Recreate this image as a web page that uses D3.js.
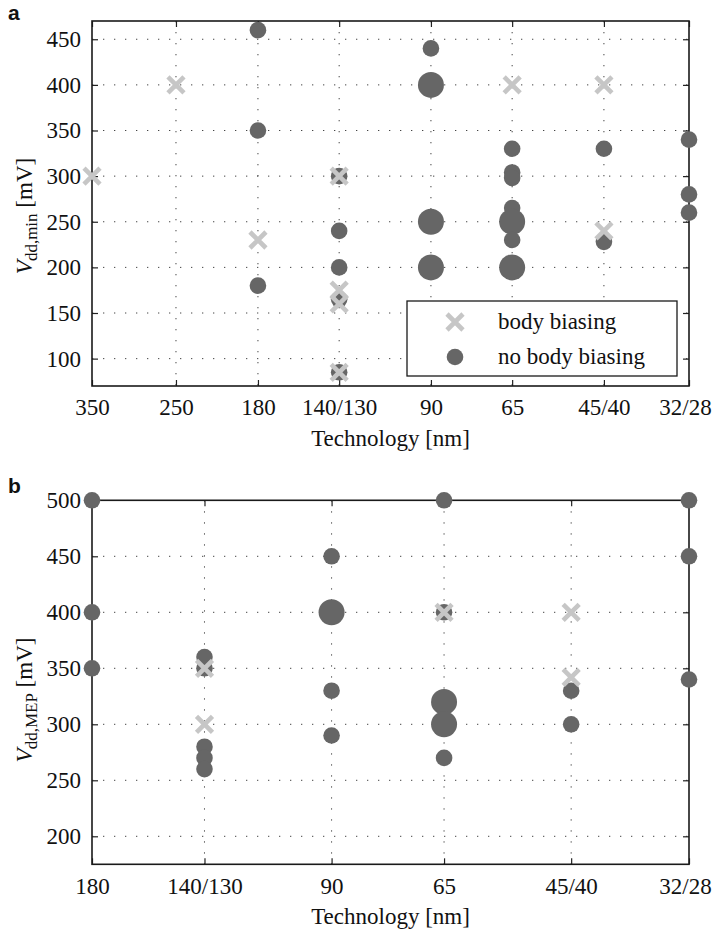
<!DOCTYPE html>
<html>
<head>
<meta charset="utf-8">
<script src="https://cdn.jsdelivr.net/npm/d3@7"></script>
<style>
body { margin: 0; background: #fff; }
text { font-family: "Liberation Serif", "Times New Roman", serif; fill: #111; }
text.panel-letter { font-family: "Liberation Sans", Arial, sans-serif; font-weight: bold; }
</style>
</head>
<body>
<script>
// technology nodes (nm, log axis) and the labels shown under them
var nodesA = [350, 250, 180, 130, 90, 65, 45, 32];
var nodeLabelsA = ["350", "250", "180", "140/130", "90", "65", "45/40", "32/28"];
var nodesB = [180, 130, 90, 65, 45, 32];
var nodeLabelsB = ["180", "140/130", "90", "65", "45/40", "32/28"];
var yTicksA = [100, 150, 200, 250, 300, 350, 400, 450];
var yTicksB = [200, 250, 300, 350, 400, 450, 500];

// panel a : Vdd,min
var bbNodeA = [350, 250, 180, 130, 130, 130, 130, 65, 45, 45];
var bbVddA  = [300, 400, 230, 300, 175, 160, 85, 400, 400, 240];
var nbNodeA = [180, 180, 180, 130, 130, 130, 130, 130, 90, 90, 90, 90, 65, 65, 65, 65, 65, 65, 65, 45, 45, 32, 32, 32];
var nbVddA  = [460, 350, 180, 300, 240, 200, 165, 85, 440, 400, 250, 200, 330, 304, 298, 265, 250, 230, 200, 330, 228, 340, 280, 260];
var nbSizeA = [1, 1, 1, 1, 1, 1, 1, 1, 1, 2, 2, 2, 1, 1, 1, 1, 2, 1, 2, 1, 1, 1, 1, 1];

// panel b : Vdd,MEP
var bbNodeB = [130, 130, 65, 45, 45];
var bbVddB  = [350, 300, 400, 400, 342];
var nbNodeB = [180, 180, 180, 130, 130, 130, 130, 130, 90, 90, 90, 90, 65, 65, 65, 65, 65, 45, 45, 32, 32, 32];
var nbVddB  = [500, 400, 350, 360, 350, 280, 270, 260, 450, 400, 330, 290, 500, 400, 320, 300, 270, 330, 300, 500, 450, 340];
var nbSizeB = [1, 1, 1, 1, 1, 1, 1, 1, 1, 2, 1, 1, 1, 1, 2, 2, 1, 1, 1, 1, 1, 1];

var W = 713, H = 934;
var left = 92, right = 689;
var serif = "'Liberation Serif', 'Times New Roman', serif";
var crossCol = "#c6c6c6", dotCol = "#666666";

var svg = d3.select("body").append("svg")
    .attr("width", W)
    .attr("height", H)
    .attr("font-family", serif);

function crossPath(s) {
  return "M" + (-s) + "," + (-s) + "L" + s + "," + s + "M" + (-s) + "," + s + "L" + s + "," + (-s);
}

function panel(cfg) {
  var x = d3.scaleLog().domain(cfg.xDomain).range([left, right]);
  var y = d3.scaleLinear().domain(cfg.yDomain).range([cfg.bottom, cfg.top]);
  var g = svg.append("g");

  // dotted grid
  g.selectAll(".gx").data(cfg.nodes.slice(1, -1)).enter().append("line")
      .attr("x1", function(d) { return x(d); }).attr("x2", function(d) { return x(d); })
      .attr("y1", cfg.top).attr("y2", cfg.bottom)
      .attr("stroke", "#444").attr("stroke-width", 1).attr("stroke-dasharray", "1.3,9.7");
  g.selectAll(".gy").data(cfg.yTicks.filter(function(d) { return y(d) > cfg.top + 1; })).enter().append("line")
      .attr("y1", function(d) { return y(d); }).attr("y2", function(d) { return y(d); })
      .attr("x1", left).attr("x2", right)
      .attr("stroke", "#444").attr("stroke-width", 1).attr("stroke-dasharray", "1.3,9.7");

  // axes with inward ticks
  var bottomAxis = d3.axisBottom(x).tickValues(cfg.nodes)
      .tickFormat(function(d, i) { return cfg.labels[i]; })
      .tickSizeInner(-6).tickSizeOuter(0).tickPadding(13);
  var ax = g.append("g").attr("transform", "translate(0," + cfg.bottom + ")").call(bottomAxis);
  ax.attr("font-family", serif).attr("font-size", 23);
  ax.selectAll("text").attr("fill", "#111")
      .attr("dx", function(d, i) { return i == cfg.nodes.length - 1 ? -4 : 0; });

  g.append("g").attr("transform", "translate(0," + cfg.top + ")")
      .call(d3.axisTop(x).tickValues(cfg.nodes).tickFormat("").tickSizeInner(-6).tickSizeOuter(0));

  var ay = g.append("g").attr("transform", "translate(" + left + ",0)")
      .call(d3.axisLeft(y).tickValues(cfg.yTicks).tickSizeInner(-6).tickSizeOuter(0).tickPadding(11));
  ay.attr("font-family", serif).attr("font-size", 23);
  ay.selectAll("text").attr("fill", "#111");

  g.append("g").attr("transform", "translate(" + right + ",0)")
      .call(d3.axisRight(y).tickValues(cfg.yTicks).tickFormat("").tickSizeInner(-6).tickSizeOuter(0));

  g.selectAll(".domain").remove();
  g.selectAll(".tick line").attr("stroke", "#222").attr("stroke-width", 1.2);

  g.append("rect")
      .attr("x", left).attr("y", cfg.top)
      .attr("width", right - left).attr("height", cfg.bottom - cfg.top)
      .attr("fill", "none").attr("stroke", "#1a1a1a").attr("stroke-width", 1.6);

  // no body biasing: circles
  var dots = cfg.nbNode.map(function(n, i) { return {n: n, v: cfg.nbVdd[i], s: cfg.nbSize[i]}; });
  g.selectAll(".dot").data(dots).enter().append("circle")
      .attr("cx", function(d) { return x(d.n); })
      .attr("cy", function(d) { return y(d.v); })
      .attr("r", function(d) { return d.s == 2 ? 13 : 8.3; })
      .attr("fill", dotCol);

  // body biasing: crosses
  var crosses = cfg.bbNode.map(function(n, i) { return {n: n, v: cfg.bbVdd[i]}; });
  g.selectAll(".cross").data(crosses).enter().append("path")
      .attr("transform", function(d) { return "translate(" + x(d.n) + "," + y(d.v) + ")"; })
      .attr("d", crossPath(8))
      .attr("stroke", crossCol).attr("stroke-width", 4.6).attr("fill", "none");

  // axis labels
  g.append("text")
      .attr("x", (left + right) / 2).attr("y", cfg.bottom + 60)
      .attr("text-anchor", "middle").attr("font-size", 23)
      .text("Technology [nm]");

  var yl = g.append("text")
      .attr("transform", "translate(32," + cfg.labelY + ") rotate(-90)")
      .attr("text-anchor", "middle").attr("font-size", 23);
  yl.append("tspan").attr("font-style", "italic").text("V");
  yl.append("tspan").attr("dy", 5).attr("dx", -1).attr("font-size", 17).text(cfg.sub);
  yl.append("tspan").attr("dy", -5).text(" [mV]");

  svg.append("text")
      .attr("class", "panel-letter")
      .attr("x", 8).attr("y", cfg.letterY)
      .attr("font-size", 21)
      .text(cfg.letter);

  return {x: x, y: y, g: g};
}

var pa = panel({
  xDomain: [350, 32], yDomain: [70, 470], top: 21, bottom: 386,
  nodes: nodesA, labels: nodeLabelsA, yTicks: yTicksA,
  bbNode: bbNodeA, bbVdd: bbVddA, nbNode: nbNodeA, nbVdd: nbVddA, nbSize: nbSizeA,
  sub: "dd,min", labelY: 216, letter: "a", letterY: 20
});

var pb = panel({
  xDomain: [180, 32], yDomain: [175, 500], top: 500.3, bottom: 864.3,
  nodes: nodesB, labels: nodeLabelsB, yTicks: yTicksB,
  bbNode: bbNodeB, bbVdd: bbVddB, nbNode: nbNodeB, nbVdd: nbVddB, nbSize: nbSizeB,
  sub: "dd,MEP", labelY: 700, letter: "b", letterY: 493
});

// legend (panel a, lower right)
var lg = pa.g.append("g");
lg.append("rect")
    .attr("x", 407).attr("y", 301).attr("width", 270).attr("height", 75)
    .attr("fill", "#fff").attr("stroke", "#1a1a1a").attr("stroke-width", 1.3);
lg.append("path")
    .attr("transform", "translate(455,322)")
    .attr("d", crossPath(8))
    .attr("stroke", crossCol).attr("stroke-width", 4.6).attr("fill", "none");
lg.append("circle").attr("cx", 455).attr("cy", 357).attr("r", 8.3).attr("fill", dotCol);
lg.append("text").attr("x", 498).attr("y", 329).attr("font-size", 23).text("body biasing");
lg.append("text").attr("x", 498).attr("y", 364).attr("font-size", 23).text("no body biasing");
</script>
</body>
</html>
